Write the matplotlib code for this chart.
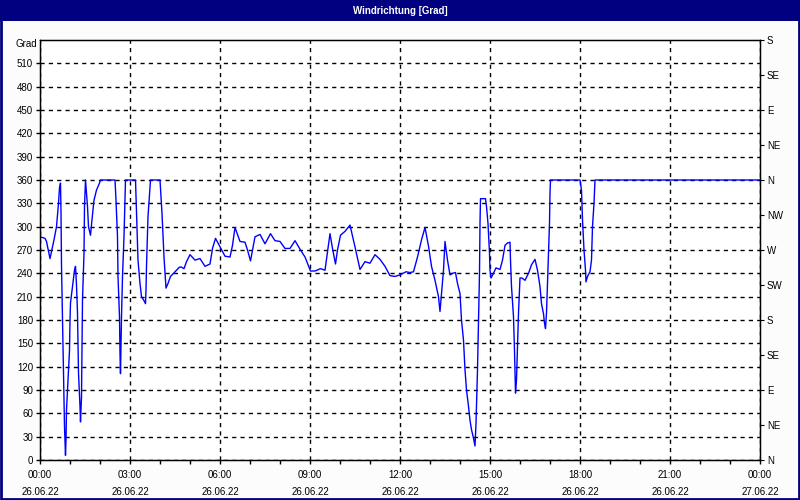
import matplotlib
matplotlib.use("Agg")
import matplotlib.pyplot as plt
import matplotlib.dates as mdates
import pandas as pd

# minutes after 26.06.22 00:00 and wind direction in degrees
minutes = [0, 10, 13, 20, 28, 33, 37, 39, 41, 42, 43, 45, 47, 49, 51, 52, 53, 56, 59, 60,
           61, 65, 69, 71, 73, 75, 77, 80, 81, 83, 84, 85, 88, 89, 91, 92, 95, 97, 101, 104,
           108, 113, 119, 121, 150, 152, 155, 156, 159, 160, 161, 163, 165, 168, 171, 191, 193, 196, 200, 203,
           207, 211, 212, 213, 216, 221, 240, 244, 248, 251, 252, 256, 261, 267, 273, 279, 283, 288, 293, 300,
           310, 320, 330, 340, 345, 351, 360, 370, 380, 385, 390, 400, 410, 415, 421, 430, 440, 450, 461, 470,
           480, 490, 500, 510, 520, 530, 539, 541, 550, 561, 570, 580, 585, 591, 595, 601, 610, 620, 630, 640,
           650, 660, 670, 680, 690, 700, 710, 720, 732, 740, 747, 755, 763, 770, 777, 783, 790, 797, 800, 803,
           807, 810, 815, 820, 825, 831, 835, 840, 843, 847, 850, 853, 857, 860, 863, 867, 870, 872, 875, 877,
           879, 880, 881, 891, 893, 896, 899, 900, 902, 907, 912, 920, 925, 930, 935, 940, 941, 943, 947, 949,
           951, 953, 955, 957, 960, 964, 970, 977, 983, 990, 995, 1000, 1003, 1007, 1009, 1011, 1013, 1015, 1017, 1019,
           1020, 1021, 1080, 1083, 1085, 1088, 1091, 1092, 1095, 1100, 1103, 1105, 1108, 1110, 1440]
direction = [287, 285, 281, 259, 283, 300, 330, 350, 356, 319, 250, 180, 112, 43, 6, 26, 64, 103, 141, 180,
             202, 223, 244, 249, 225, 189, 112, 69, 49, 81, 141, 206, 266, 326, 360, 351, 326, 300, 289, 309,
             334, 347, 356, 360, 360, 334, 287, 236, 184, 137, 111, 184, 236, 287, 360, 360, 317, 257, 227, 210,
             206, 201, 219, 249, 313, 360, 360, 317, 261, 231, 221, 227, 236, 240, 244, 248, 248, 246, 255, 264,
             257, 259, 249, 252, 272, 285, 274, 262, 261, 276, 299, 281, 280, 270, 256, 287, 290, 278, 291, 282,
             281, 272, 272, 282, 271, 261, 246, 243, 243, 246, 244, 291, 272, 252, 270, 289, 294, 302, 274, 245,
             255, 253, 264, 258, 249, 237, 236, 238, 242, 241, 242, 261, 283, 299, 275, 249, 231, 210, 191, 214,
             244, 281, 257, 238, 240, 241, 227, 214, 180, 154, 116, 90, 69, 51, 39, 28, 18, 47, 116, 176,
             240, 304, 336, 336, 326, 304, 266, 244, 234, 240, 247, 245, 257, 276, 279, 280, 257, 223, 184, 141,
             86, 103, 146, 189, 234, 234, 231, 240, 251, 258, 244, 223, 201, 188, 176, 169, 189, 227, 266, 304,
             343, 360, 360, 347, 309, 270, 244, 229, 236, 242, 257, 300, 330, 360, 360]

left_ticks = list(range(0, 540, 30))
compass = ["N", "NE", "E", "SE", "S", "SW", "W", "NW", "N", "NE", "E", "SE", "S"]

start = pd.Timestamp("2022-06-26 00:00")
times = start + pd.to_timedelta(minutes, unit="m")

navy = "#000080"
fs = 7
plt.rcParams["font.family"] = ["Liberation Sans", "DejaVu Sans"]

fig = plt.figure(figsize=(8, 5), dpi=100, facecolor="#fcfcfc")
ax = fig.add_axes([0.05, 0.08, 0.90, 0.84])
ax.set_facecolor("white")

ax.plot(times, direction, color="#0000ff", lw=1)

ax.set_xlim(start, start + pd.Timedelta(hours=24))
ax.set_ylim(0, 540)
ax.xaxis.set_major_locator(mdates.HourLocator(byhour=range(0, 24, 3)))
ax.xaxis.set_minor_locator(mdates.HourLocator())
ax.xaxis.set_major_formatter(mdates.DateFormatter("%H:%M\n%d.%m.%y"))
ax.set_yticks(left_ticks)
ax.tick_params(axis="both", which="both", direction="out", length=3, width=1,
               labelsize=fs, pad=2, colors="black")
ax.tick_params(axis="x", pad=4)
for lbl in ax.get_xticklabels():
    lbl.set_linespacing(1.85)

ax.grid(True, which="major", color="black", lw=1, linestyle=(0, (3, 3)))
for s in ax.spines.values():
    s.set_color("black")
    s.set_linewidth(1)

ax.text(-0.004, 0.99, "Grad", transform=ax.transAxes, ha="right", va="center", fontsize=fs)

ax2 = ax.twinx()
ax2.set_ylim(0, 540)
ax2.set_yticks(range(0, 541, 45))
ax2.set_yticklabels(compass)
ax2.tick_params(axis="y", direction="out", length=3, labelsize=fs, pad=2)

# title bar and window frame
fig.patches.append(plt.Rectangle((0, 0.958), 1, 0.042, transform=fig.transFigure,
                                 facecolor=navy, edgecolor="none", zorder=-1))
fig.patches.append(plt.Rectangle((0.001, 0.002), 0.998, 0.998, transform=fig.transFigure,
                                 facecolor="none", edgecolor=navy, lw=2, zorder=5))
fig.text(0.5, 0.979, "Windrichtung [Grad]", color="white", ha="center", va="center",
         fontsize=fs, fontweight="bold")

fig.savefig("out.png", dpi=100, facecolor=fig.get_facecolor())
